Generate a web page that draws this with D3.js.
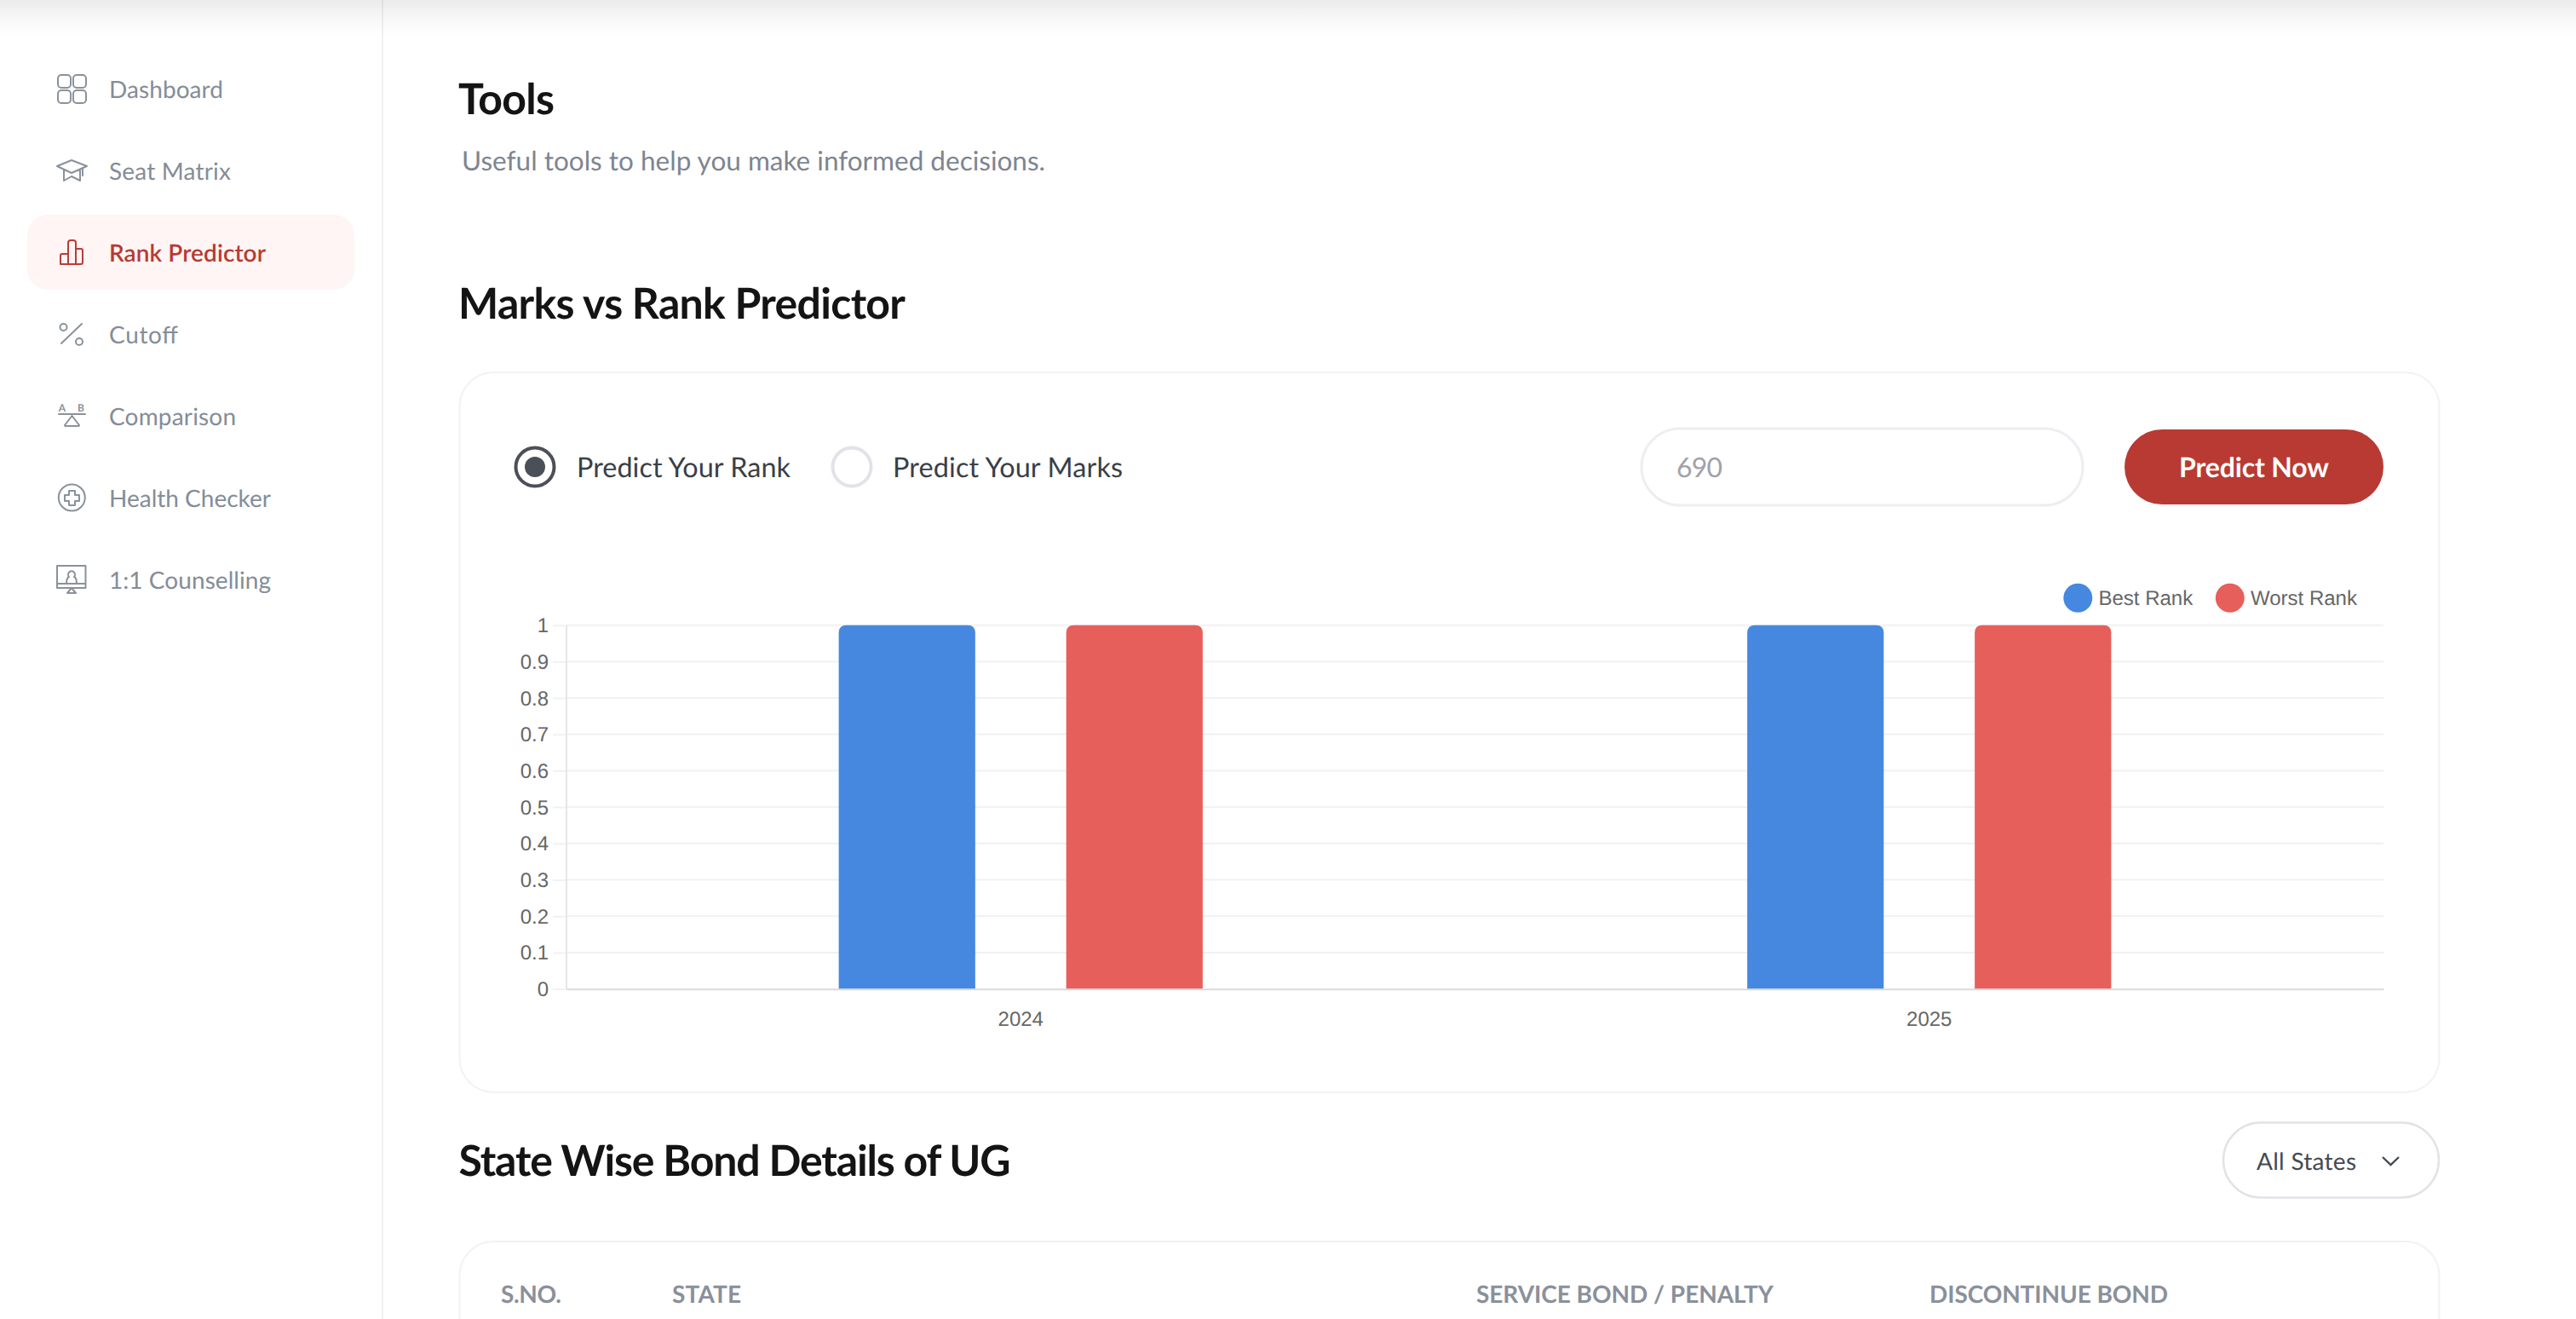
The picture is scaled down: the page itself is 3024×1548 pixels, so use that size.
<!DOCTYPE html>
<html><head><meta charset="utf-8">
<script src="https://cdn.jsdelivr.net/npm/d3@7"></script>
<style>
html,body{margin:0;padding:0;background:#fff;overflow:hidden}
svg{display:block}
text{font-family:Lato,sans-serif;text-rendering:geometricPrecision}
.chart text{font-family:"Liberation Sans",Arial,sans-serif;fill:#666}
</style></head><body>
<svg id="page" width="3024" height="1548" viewBox="0 0 3024 1548"></svg>
<script>
const years = ["2024", "2025"];
const seriesNames = ["Best Rank", "Worst Rank"];
const bestRank = [1, 1];
const worstRank = [1, 1];
const seriesColors = ["#4688e0", "#e75f5a"];
const yTicks = [0, 0.1, 0.2, 0.3, 0.4, 0.5, 0.6, 0.7, 0.8, 0.9, 1];
const navLabels = ["Dashboard", "Seat Matrix", "Rank Predictor", "Cutoff", "Comparison", "Health Checker", "1:1 Counselling"];
const tableHeaders = ["S.NO.", "STATE", "SERVICE BOND / PENALTY", "DISCONTINUE BOND"];

const svg = d3.select("#page");
const defs = svg.append("defs");
const grad = defs.append("linearGradient").attr("id","top").attr("x1",0).attr("x2",0).attr("y1",0).attr("y2",1);
grad.append("stop").attr("offset",0).attr("stop-color","#ebebeb");
grad.append("stop").attr("offset",0.35).attr("stop-color","#f4f4f4");
grad.append("stop").attr("offset",0.75).attr("stop-color","#fcfcfc");
grad.append("stop").attr("offset",1).attr("stop-color","#ffffff");

svg.append("rect").attr("width",3024).attr("height",1548).attr("fill","#fff");
svg.append("rect").attr("width",3024).attr("height",44).attr("fill","url(#top)");
svg.append("rect").attr("x",448).attr("y",0).attr("width",2).attr("height",1548).attr("fill","#000").attr("opacity",0.055);

function txt(s,x,y,size,weight,fill,target){
  const t=svg.append("text").attr("x",x).attr("y",y).attr("dy","0.35em").attr("font-size",size)
    .attr("font-weight",weight).attr("fill",fill).text(s);
  if(target)t.attr("textLength",target).attr("lengthAdjust","spacing");
  return t;
}

// sidebar
svg.append("rect").attr("x",32).attr("y",252).attr("width",384).attr("height",88).attr("rx",24).attr("fill","#fef5f4");
const navY=d3.scaleLinear().domain([0,6]).range([105,681]);
const navTargets=[134,143,184,81,149,190,190];
navLabels.forEach((n,i)=>txt(n,128,navY(i),28,i==2?600:400,i==2?"#b83a33":"#848d98",navTargets[i]));

const G="#8a929c", R="#bd3b35";
const icons=svg.append("g").attr("fill","none").attr("stroke",G).attr("stroke-width",2).attr("stroke-linejoin","round").attr("stroke-linecap","round");
[[68,88],[86,88],[68,106],[86,106]].forEach(p=>icons.append("rect").attr("x",p[0]).attr("y",p[1]).attr("width",15).attr("height",15).attr("rx",4));
icons.append("path").attr("d","M67 195L84 188L102 195L84 203ZM75 199V212L84 207L94 212V199M97 197V206");
icons.append("path").attr("stroke",R).attr("d","M71 310V300Q71 298 73 298H80V285Q80 282 83 282H86Q89 282 89 285V292H95Q97 292 97 294V308Q97 310 95 310ZM80 298V310M89 292V310");
icons.append("circle").attr("cx",74.5).attr("cy",384).attr("r",4);
icons.append("circle").attr("cx",93).attr("cy",401).attr("r",4);
icons.append("path").attr("d","M72 403L96 380");
icons.append("path").attr("d","M69 486H100M84.5 488L76 499Q76 500 78 500H91Q93 500 93 499Z");
icons.append("circle").attr("cx",84.3).attr("cy",584).attr("r",15.5);
icons.append("path").attr("d","M81 576H88V581H93V588H88V593H81V588H76V581H81Z");
icons.append("path").attr("d","M67 664H100.5V690H67ZM67 685H100.5M78 685Q78 678 81 677A4 4 0 1 1 87 677Q90 678 90 685M84 690L79 696H89Z");
svg.append("text").attr("x",73).attr("y",483).attr("text-anchor","middle").attr("font-size",12).attr("font-weight",700).attr("fill",G).text("A");
svg.append("text").attr("x",95).attr("y",483).attr("text-anchor","middle").attr("font-size",12).attr("font-weight",700).attr("fill",G).text("B");

// headings
txt("Tools",538,116,50,700,"#141414",113);
txt("Useful tools to help you make informed decisions.",542,189,31.5,400,"#7d8590",685);
txt("Marks vs Rank Predictor",538,356,50,700,"#141414",525);
txt("State Wise Bond Details of UG",538.5,1362,50,700,"#141414",648);

// cards
svg.append("rect").attr("x",539.5).attr("y",437).attr("width",2324).attr("height",845).attr("rx",40).attr("fill","#fff").attr("stroke","#f2f2f4").attr("stroke-width",2);
svg.append("rect").attr("x",539.5).attr("y",1457).attr("width",2324).attr("height",300).attr("rx",40).attr("fill","#fff").attr("stroke","#f2f2f4").attr("stroke-width",2);

// controls
svg.append("circle").attr("cx",628).attr("cy",548).attr("r",22.5).attr("fill","#fff").attr("stroke","#4b5058").attr("stroke-width",4);
svg.append("circle").attr("cx",628).attr("cy",548).attr("r",12).attr("fill","#4b5058");
svg.append("circle").attr("cx",1000).attr("cy",548).attr("r",22.5).attr("fill","#fff").attr("stroke","#e1e3e8").attr("stroke-width",4);
txt("Predict Your Rank",677,549,32.4,400,"#3a3f47",251);
txt("Predict Your Marks",1048,549,32.4,400,"#3a3f47",270);
svg.append("rect").attr("x",1927).attr("y",503).attr("width",518).attr("height",90).attr("rx",45).attr("fill","#fff").attr("stroke","#eeeef2").attr("stroke-width",3);
txt("690",1968,549,32,400,"#9fa2a8",54);
svg.append("rect").attr("x",2494).attr("y",504).attr("width",304).attr("height",88).attr("rx",44).attr("fill","#b83a33");
txt("Predict Now",2558,549,32,700,"#fff",176);
svg.append("rect").attr("x",2610).attr("y",1317.5).attr("width",253).attr("height",88).attr("rx",44).attr("fill","#fff").attr("stroke","#e2e3e7").attr("stroke-width",2.5);
txt("All States",2649,1363,28,400,"#454a52",117);
svg.append("path").attr("d","M2797 1358L2806.5 1367L2816 1358").attr("fill","none").attr("stroke","#454a52").attr("stroke-width",2.4);
const headX=[588,789,1733,2265], headT=[71,81,349,280];
tableHeaders.forEach((h,i)=>txt(h,headX[i],1519,28,700,"#8a909a",headT[i]));

// chart
const chart=svg.append("g").attr("class","chart");
const y=d3.scaleLinear().domain([0,1]).range([1160.7,733.7]);
const x0=d3.scaleBand().domain(years).range([665,2798]);
const x1=d3.scaleBand().domain(seriesNames).range([0,x0.bandwidth()]).paddingInner(0.4).paddingOuter(1.197);
const gridG=chart.append("g").attr("transform","translate(665,0)")
  .call(d3.axisLeft(y).tickValues(yTicks).tickFormat(d3.format("~g")).tickSize(16).tickPadding(5));
gridG.select(".domain").remove();
gridG.selectAll(".tick line").attr("stroke","#f1f1f2").attr("stroke-width",2);
gridG.selectAll(".tick text").attr("font-size",24).attr("dy","0.33em");
chart.append("g").selectAll("line").data(yTicks.filter(d=>d>0)).join("line")
  .attr("x1",665).attr("x2",2798).attr("y1",d=>y(d)).attr("y2",d=>y(d)).attr("stroke","#f1f1f2").attr("stroke-width",2);
chart.append("line").attr("x1",665).attr("x2",665).attr("y1",733.7).attr("y2",1161).attr("stroke","#e6e6e6").attr("stroke-width",2);
const series=[bestRank,worstRank];
const radius=9;
seriesNames.forEach((name,si)=>{
  chart.append("g").selectAll("path").data(years).join("path").attr("fill",seriesColors[si])
    .attr("d",(d,i)=>{
      const l=x0(d)+x1(name),r=l+x1.bandwidth(),t=y(series[si][i]),b=y(0);
      return `M${l} ${b}V${t+radius}Q${l} ${t} ${l+radius} ${t}H${r-radius}Q${r} ${t} ${r} ${t+radius}V${b}Z`;
    });
});
const xAxis=chart.append("g").attr("transform","translate(0,1160.7)")
  .call(d3.axisBottom(x0).tickSize(0).tickPadding(26));
xAxis.select(".domain").attr("stroke","#dadada").attr("stroke-width",2);
xAxis.selectAll("text").attr("font-size",24);
// legend
const legCx=[2439.3,2617.8], legTx=[2463.5,2642];
seriesNames.forEach((n,i)=>{
  chart.append("circle").attr("cx",legCx[i]).attr("cy",701.7).attr("r",17).attr("fill",seriesColors[i]);
  chart.append("text").attr("x",legTx[i]).attr("y",701.7).attr("dy","0.36em").attr("font-size",24).text(n);
});
</script></body></html>
